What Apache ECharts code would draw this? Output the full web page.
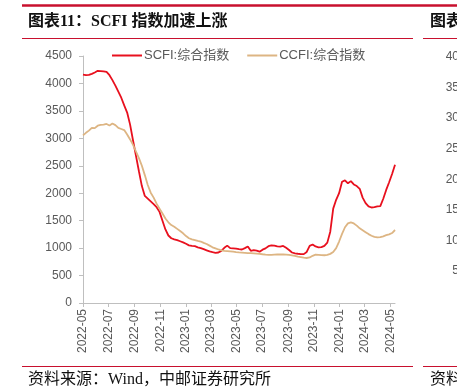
<!DOCTYPE html>
<html>
<head>
<meta charset="utf-8">
<script src="https://cdn.jsdelivr.net/npm/echarts@6/dist/echarts.min.js"></script>
<style>
html, body { margin: 0; padding: 0; background: #fff; }
#main { width: 457px; height: 392px; }
</style>
</head>
<body>
<div id="main"></div>
<script>
(function () {
	"use strict";

	/*---- weekly data, first week 2022-05-06 ----*/
	var startDate = '2022-05-06';
	var weekCount = 107;

	var scfi = [4161, 4150, 4155, 4175, 4200, 4230, 4225, 4220, 4210, 4150,
		4060, 3960, 3850, 3740, 3600, 3470, 3250, 2960, 2680, 2400,
		2130, 1950, 1900, 1850, 1800, 1745, 1660, 1500, 1340, 1230,
		1180, 1160, 1145, 1125, 1105, 1080, 1050, 1040, 1035, 1015,
		1000, 980, 960, 940, 925, 915, 920, 950, 1005, 1045,
		1000, 995, 990, 980, 975, 1000, 1030, 950, 962, 955,
		935, 972, 995, 1035, 1050, 1045, 1030, 1028, 1040, 1005,
		965, 920, 905, 897, 892, 890, 930, 1040, 1065, 1030,
		1015, 1018, 1040, 1100, 1300, 1720, 1880, 2000, 2210, 2235,
		2180, 2220, 2160, 2130, 2080, 1920, 1820, 1760, 1740, 1745,
		1760, 1765, 1900, 2060, 2200, 2350, 2520];

	var ccfi = [3055, 3100, 3140, 3190, 3185, 3230, 3245, 3250, 3262, 3235,
		3270, 3240, 3190, 3170, 3150, 3070, 2980, 2880, 2760, 2640,
		2500, 2330, 2150, 2010, 1920, 1810, 1720, 1630, 1540, 1470,
		1420, 1390, 1350, 1310, 1270, 1220, 1180, 1160, 1145, 1130,
		1120, 1095, 1075, 1045, 1015, 995, 975, 960, 950, 945,
		940, 935, 928, 922, 918, 914, 910, 908, 905, 900,
		895, 888, 882, 878, 878, 882, 884, 885, 884, 882,
		876, 868, 858, 845, 835, 825, 820, 830, 860, 880,
		878, 872, 870, 878, 895, 930, 1000, 1120, 1260, 1380,
		1450, 1470, 1450, 1410, 1360, 1325, 1290, 1255, 1225, 1205,
		1195, 1200, 1215, 1235, 1250, 1275, 1330];

	var tickLabels = ['2022-05', '2022-07', '2022-09', '2022-11', '2023-01', '2023-03', '2023-05',
		'2023-07', '2023-09', '2023-11', '2024-01', '2024-03', '2024-05'];

	// ticks of the neighbouring chart, cut off at the right edge
	var rightMin = 5, rightMax = 40, rightStep = 5;

	var DAY = 86400000;
	function toUTC(s) {
		var p = s.split('-');
		return Date.UTC(+p[0], +p[1] - 1, p[2] ? +p[2] : 6);
	}
	var t0 = toUTC(startDate);

	var scfiData = [], ccfiData = [];
	for (var i = 0; i < weekCount; i++) {
		scfiData.push([i * 7, scfi[i]]);
		ccfiData.push([i * 7, ccfi[i]]);
	}
	var lastX = (weekCount - 1) * 7;

	var tickPos = tickLabels.map(function (s) { return (toUTC(s) - t0) / DAY; });
	function labelFor(v) {
		for (var k = 0; k < tickPos.length; k++) {
			if (Math.abs(tickPos[k] - v) < 0.5) return tickLabels[k];
		}
		return '';
	}
	function plain(v) { return String(v); }

	var axisGrey = '#BFBFBF';
	var textGrey = '#595959';
	var sans = "'Liberation Sans', 'Noto Sans CJK SC', sans-serif";
	var serif = "'Liberation Serif', 'Noto Sans CJK SC', serif";
	var redLine = '#C8102E';

	var plotLeft = 83, plotTop = 56, plotBottom = 303;
	var pxPerDay = 307.4 / tickPos[tickPos.length - 1];

	var option = {
		animation: false,
		color: ['#E8101E', '#DDB583'],
		legend: {
			left: 112,
			top: 49,
			padding: 0,
			icon: 'rect',
			itemWidth: 30,
			itemHeight: 2,
			itemGap: 18,
			textStyle: { color: textGrey, fontSize: 13, fontFamily: sans, padding: [0, 0, 0, -3] },
			data: ['SCFI:综合指数', 'CCFI:综合指数']
		},
		grid: [{
			left: plotLeft,
			top: plotTop,
			width: lastX * pxPerDay,
			height: plotBottom - plotTop,
			outerBoundsMode: 'none'
		}, {
			left: 467,
			top: 57,
			width: 40,
			height: 214,
			outerBoundsMode: 'none'
		}],
		xAxis: [{
			type: 'value',
			min: 0,
			max: lastX,
			splitLine: { show: false },
			axisLine: { lineStyle: { color: axisGrey } },
			axisTick: { show: true, length: 4, lineStyle: { color: axisGrey }, customValues: tickPos },
			axisLabel: {
				customValues: tickPos,
				rotate: 90,
				margin: 6,
				fontSize: 12,
				fontFamily: sans,
				color: textGrey,
				formatter: labelFor
			}
		}, {
			gridIndex: 1,
			type: 'value',
			show: false
		}],
		yAxis: [{
			type: 'value',
			min: 0,
			max: 4500,
			interval: 500,
			splitLine: { show: false },
			axisLine: { show: true, lineStyle: { color: axisGrey } },
			axisTick: { show: true, length: 4, lineStyle: { color: axisGrey } },
			axisLabel: { fontSize: 12, fontFamily: sans, color: textGrey, margin: 11, formatter: plain }
		}, {
			gridIndex: 1,
			type: 'value',
			min: rightMin,
			max: rightMax,
			interval: rightStep,
			splitLine: { show: false },
			axisLine: { show: false },
			axisTick: { show: false },
			axisLabel: { fontSize: 12, fontFamily: sans, color: textGrey, margin: 8, formatter: plain }
		}],
		series: [{
			name: 'SCFI:综合指数',
			type: 'line',
			data: scfiData,
			showSymbol: false,
			lineStyle: { width: 1.8 }
		}, {
			name: 'CCFI:综合指数',
			type: 'line',
			data: ccfiData,
			showSymbol: false,
			lineStyle: { width: 1.8 }
		}],
		graphic: [
			{ type: 'line', shape: { x1: 22, y1: 5.5, x2: 457, y2: 5.5 }, style: { stroke: redLine, lineWidth: 2.5 } },
			{ type: 'text', left: 28, top: 14, style: { text: '图表11：SCFI 指数加速上涨', font: 'bold 16px ' + serif, fill: '#111' } },
			{ type: 'text', left: 430, top: 14, style: { text: '图表', font: 'bold 16px ' + serif, fill: '#111' } },
			{ type: 'line', shape: { x1: 22, y1: 38.5, x2: 413, y2: 38.5 }, style: { stroke: redLine, lineWidth: 1 } },
			{ type: 'line', shape: { x1: 423, y1: 38.5, x2: 457, y2: 38.5 }, style: { stroke: redLine, lineWidth: 1 } },
			{ type: 'line', shape: { x1: 22, y1: 366.5, x2: 413, y2: 366.5 }, style: { stroke: redLine, lineWidth: 1 } },
			{ type: 'line', shape: { x1: 423, y1: 366.5, x2: 457, y2: 366.5 }, style: { stroke: redLine, lineWidth: 1 } },
			{ type: 'text', left: 28, top: 372, style: { text: '资料来源：Wind，中邮证券研究所', font: '16px ' + serif, fill: '#111' } },
			{ type: 'text', left: 430, top: 372, style: { text: '资料', font: '16px ' + serif, fill: '#111' } }
		]
	};

	var chart = echarts.init(document.getElementById('main'));
	chart.setOption(option);
})();
</script>
</body>
</html>
